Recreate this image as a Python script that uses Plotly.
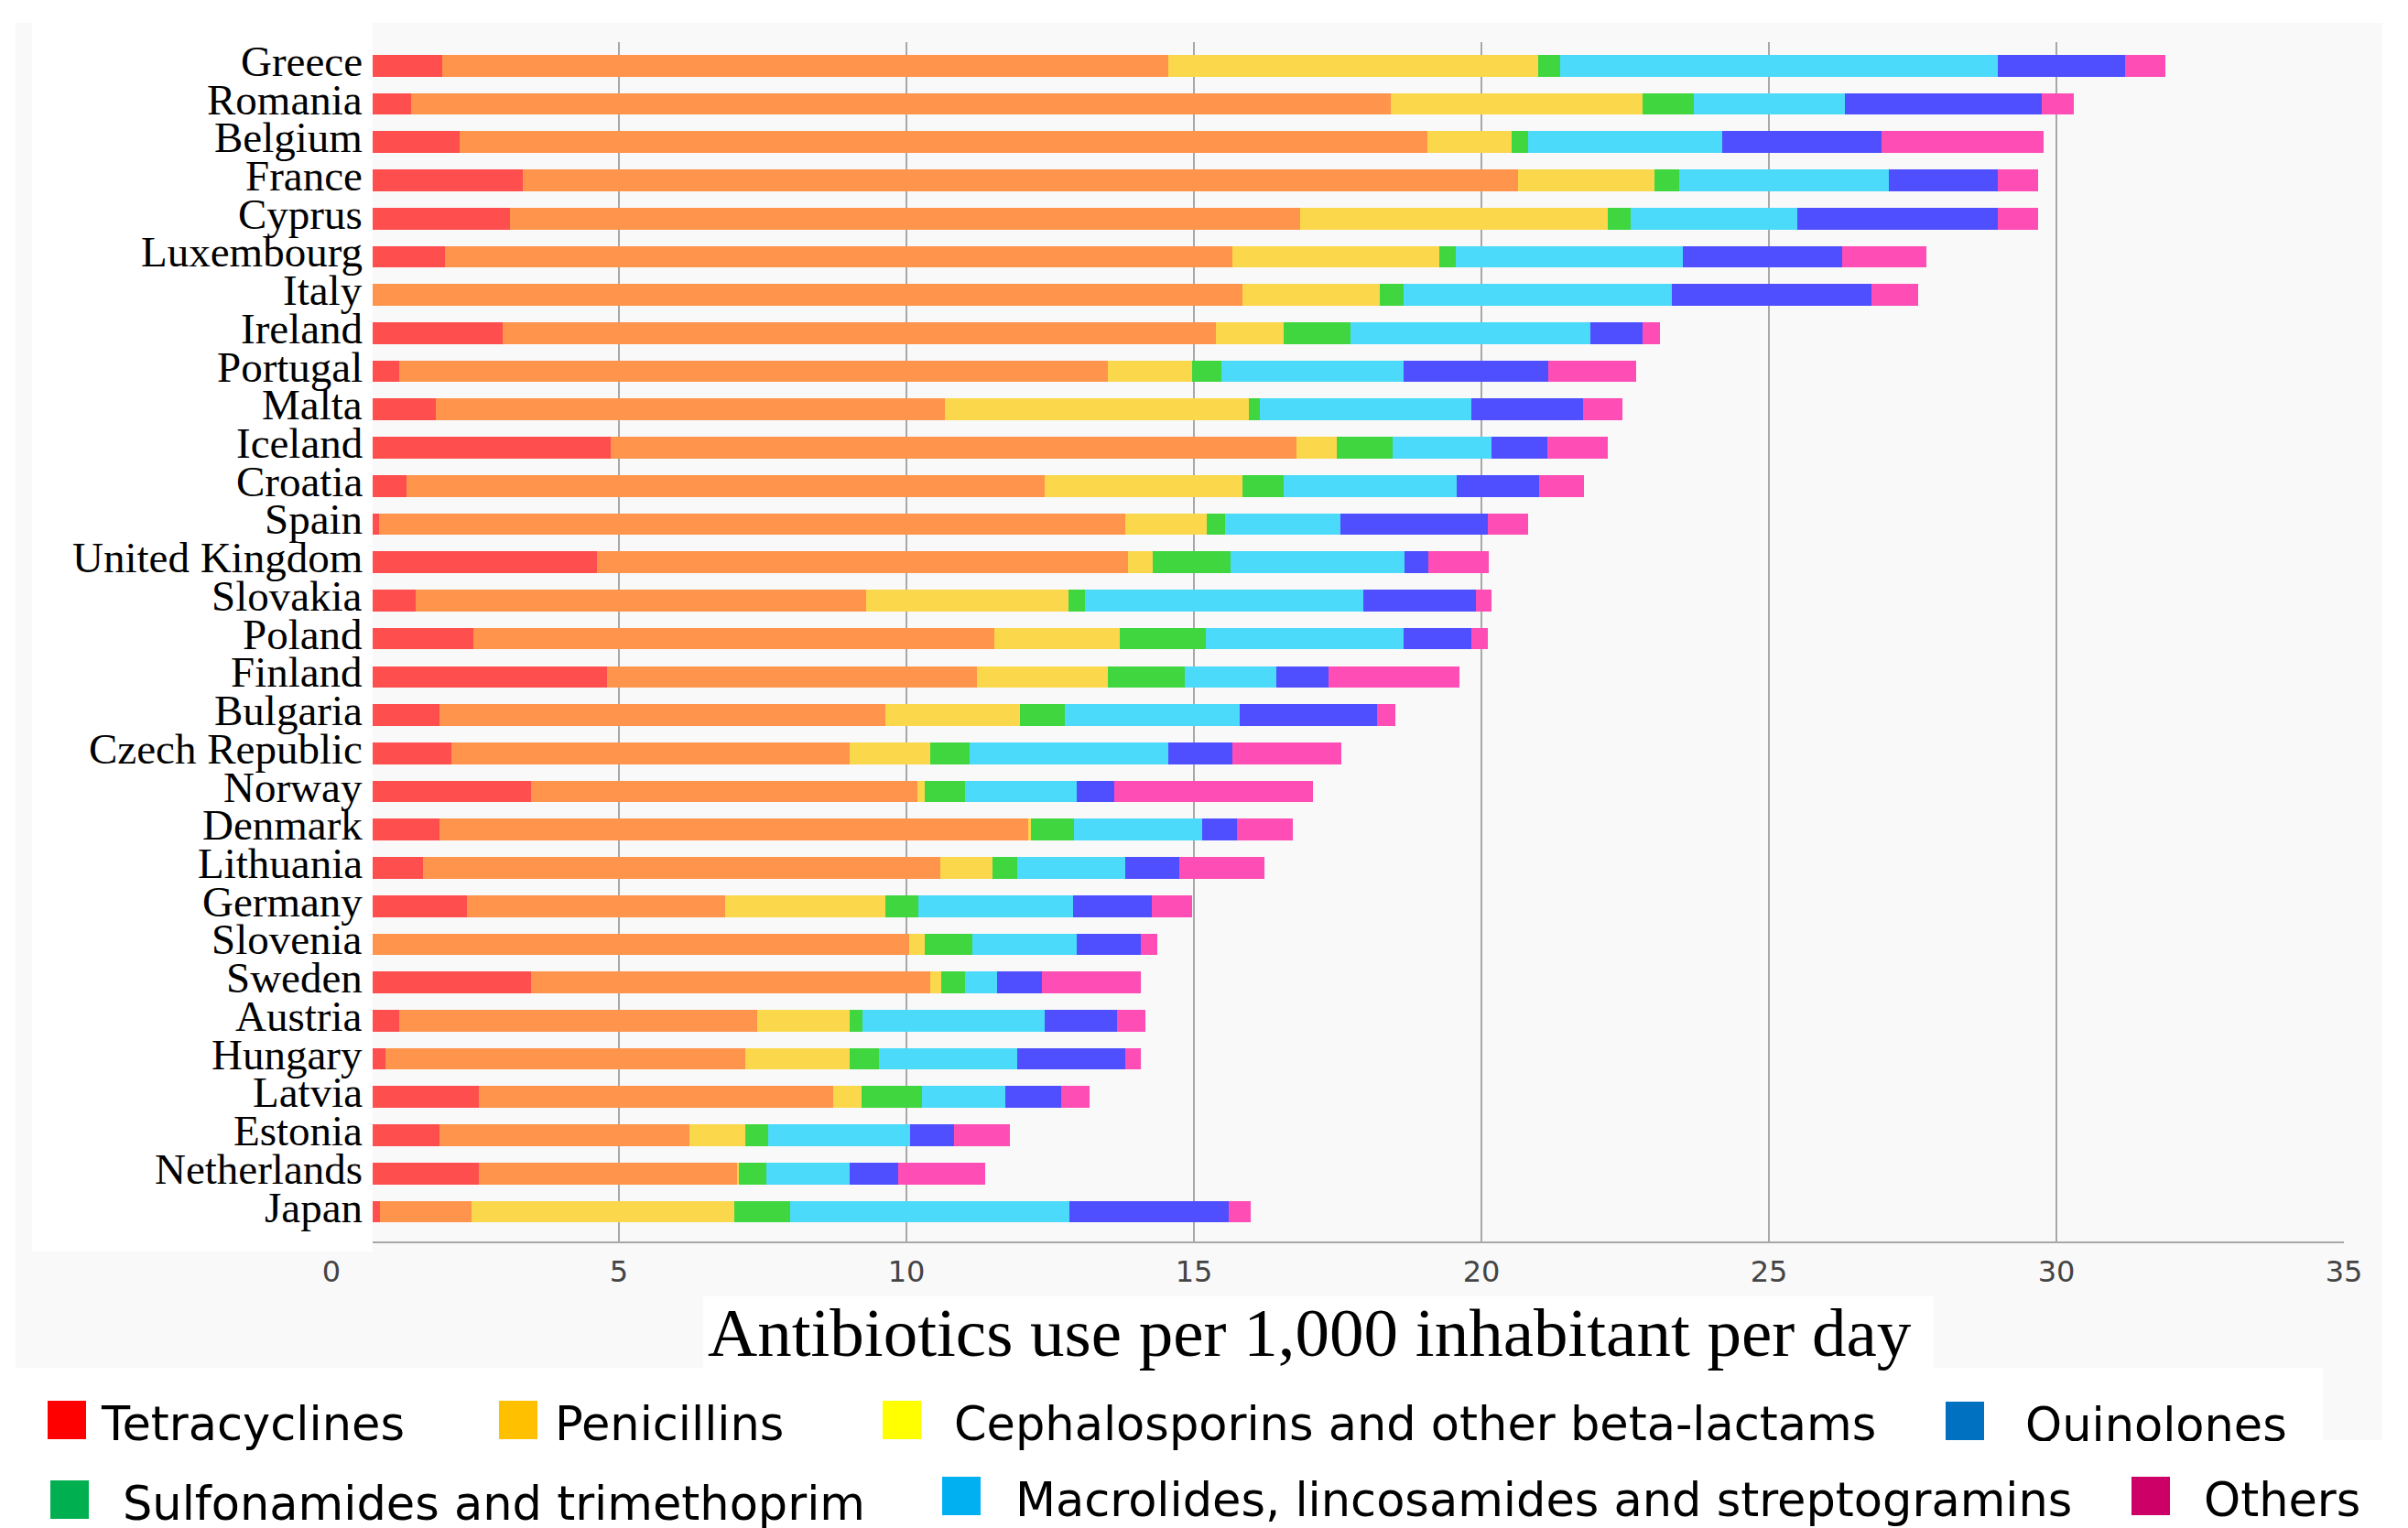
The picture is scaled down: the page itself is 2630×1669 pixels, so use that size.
import plotly.graph_objects as go

# ---------------- data ----------------
countries = ["Greece", "Romania", "Belgium", "France", "Cyprus", "Luxembourg", "Italy",
             "Ireland", "Portugal", "Malta", "Iceland", "Croatia", "Spain", "United Kingdom",
             "Slovakia", "Poland", "Finland", "Bulgaria", "Czech Republic", "Norway", "Denmark",
             "Lithuania", "Germany", "Slovenia", "Sweden", "Austria", "Hungary", "Latvia",
             "Estonia", "Netherlands", "Japan"]

tetracyclines = [1.93, 1.39, 2.23, 3.32, 3.11, 1.98, 0.40, 2.98, 1.18, 1.81, 4.85, 1.31, 0.83, 4.62,
                 1.46, 2.47, 4.80, 1.88, 2.08, 3.47, 1.88, 1.60, 2.36, 0.30, 3.47, 1.18, 0.94, 2.57,
                 1.88, 2.57, 0.84]
penicillins = [12.63, 17.03, 16.83, 17.32, 13.73, 13.69, 15.45, 12.40, 12.32, 8.86, 11.94, 11.09, 12.98,
               9.23, 7.84, 9.06, 6.42, 7.76, 6.93, 6.72, 10.25, 8.99, 4.49, 9.75, 6.95, 6.23, 6.26, 6.16,
               4.35, 4.49, 1.59]
cephalosporins = [6.43, 4.38, 1.47, 2.37, 5.35, 3.59, 2.39, 1.18, 1.47, 5.28, 0.70, 3.44, 1.42, 0.43,
                  3.52, 2.18, 2.28, 2.34, 1.41, 0.13, 0.03, 0.90, 2.79, 0.27, 0.18, 1.60, 1.81, 0.49,
                  0.97, 0.02, 4.58]
sulfonamides = [0.38, 0.89, 0.28, 0.43, 0.40, 0.30, 0.41, 1.17, 0.51, 0.20, 0.96, 0.72, 0.31, 1.35,
                0.29, 1.50, 1.34, 0.78, 0.68, 0.70, 0.75, 0.44, 0.56, 0.83, 0.42, 0.23, 0.51, 1.05,
                0.40, 0.48, 0.97]
macrolides = [7.61, 2.63, 3.38, 3.65, 2.91, 3.94, 4.66, 4.16, 3.17, 3.68, 1.73, 3.01, 2.00, 3.03,
              4.84, 3.44, 1.60, 3.04, 3.46, 1.94, 2.24, 1.88, 2.70, 1.81, 0.56, 3.17, 2.41, 1.45,
              2.47, 1.45, 4.86]
quinolones = [2.22, 3.43, 2.77, 1.89, 3.48, 2.77, 3.47, 0.91, 2.51, 1.94, 0.97, 1.43, 2.57, 0.41,
              1.96, 1.18, 0.90, 2.38, 1.11, 0.65, 0.60, 0.94, 1.36, 1.12, 0.77, 1.25, 1.88, 0.97,
              0.75, 0.84, 2.77]
others = [0.70, 0.56, 2.81, 0.70, 0.70, 1.47, 0.81, 0.31, 1.53, 0.68, 1.04, 0.78, 0.70, 1.05,
          0.27, 0.28, 2.28, 0.32, 1.90, 3.46, 0.97, 1.47, 0.71, 0.29, 1.73, 0.50, 0.27, 0.49,
          0.98, 1.52, 0.37]

x_ticks = [0, 5, 10, 15, 20, 25, 30, 35]
x_title = "Antibiotics use per 1,000 inhabitant per day"

legend_labels = ["Tetracyclines", "Penicillins", "Cephalosporins and other beta-lactams", "Quinolones",
                 "Sulfonamides and trimethoprim", "Macrolides, lincosamides and streptogramins", "Others"]

# ---------------- styles ----------------
series = [("Tetracyclines", tetracyclines, "#FF4E4E"),
          ("Penicillins", penicillins, "#FF944C"),
          ("Cephalosporins and other beta-lactams", cephalosporins, "#FBD84B"),
          ("Sulfonamides and trimethoprim", sulfonamides, "#40D640"),
          ("Macrolides, lincosamides and streptogramins", macrolides, "#4BDAFA"),
          ("Quinolones", quinolones, "#4F4FFF"),
          ("Others", others, "#FF4DB6")]

legend_colors = ["#FF0000", "#FFC000", "#FFFF00", "#0070C0", "#00B050", "#00B0F0", "#CC0066"]
# (square x0, square y0, text x) in page pixels
legend_pos = [(52, 1530, 110), (545, 1530, 606), (964, 1530, 1042), (2125, 1531, 2212),
              (55, 1617, 134), (1029, 1613, 1109), (2328, 1613, 2407)]

W, H = 2630, 1669
ML, MR, MT, MB = 362, 70, 46, 313
PW = W - ML - MR
PH = H - MT - MB


def px(x):
    return (x - ML) / PW


def py(y):
    return (H - MB - y) / PH


fig = go.Figure()
for name, vals, col in series:
    fig.add_trace(go.Bar(
        y=countries, x=vals, name=name, orientation="h",
        marker=dict(color=col, line=dict(width=0)),
        width=0.568,
    ))

shapes = []
GRAY = "#F9F9F9"
# gray chart background
shapes.append(dict(type="rect", xref="paper", yref="paper", x0=px(17), x1=px(2602), y0=py(1494), y1=py(25),
                   fillcolor=GRAY, line=dict(width=0), layer="below"))
shapes.append(dict(type="rect", xref="paper", yref="paper", x0=px(2537), x1=px(2602), y0=py(1573), y1=py(1494),
                   fillcolor=GRAY, line=dict(width=0), layer="below"))
# white title box
shapes.append(dict(type="rect", xref="paper", yref="paper", x0=px(768), x1=px(2112), y0=py(1494), y1=py(1416),
                   fillcolor="white", line=dict(width=0), layer="below"))
# white label panel (covers the start of the bars)
shapes.append(dict(type="rect", xref="paper", yref="paper", x0=px(35), x1=px(407), y0=py(1367), y1=py(25),
                   fillcolor="white", line=dict(width=0), layer="above"))
# legend squares
for (sx, sy, tx), col in zip(legend_pos, legend_colors):
    shapes.append(dict(type="rect", xref="paper", yref="paper", x0=px(sx), x1=px(sx + 42),
                       y0=py(sy + 42), y1=py(sy), fillcolor=col, line=dict(width=0), layer="above"))

annotations = []
for c in countries:
    annotations.append(dict(text=c, xref="paper", yref="y", x=px(398), y=c, xanchor="right",
                            yanchor="middle", yshift=5, showarrow=False,
                            font=dict(family="Liberation Serif", size=47, color="#000000")))
annotations.append(dict(text=x_title, xref="paper", yref="paper", x=px(771), y=py(1456),
                        xanchor="left", yanchor="middle", showarrow=False,
                        font=dict(family="Liberation Serif", size=75, color="#000000")))
for (sx, sy, tx), lab in zip(legend_pos, legend_labels):
    annotations.append(dict(text=lab, xref="paper", yref="paper", x=px(tx - 2), y=py(sy + 25),
                            xanchor="left", yanchor="middle", showarrow=False,
                            font=dict(family="DejaVu Sans", size=51, color="#000000")))
# clipped bottom of the "Quinolones" label
annotations.append(dict(text="", xref="paper", yref="paper", x=px(2200), y=py(1574),
                        xanchor="left", yanchor="top", width=340, height=28, bgcolor="white",
                        showarrow=False, borderpad=0, borderwidth=0))

fig.update_layout(
    barmode="stack",
    width=W, height=H,
    margin=dict(l=ML, r=MR, t=MT, b=MB, pad=0),
    paper_bgcolor="white",
    plot_bgcolor="rgba(0,0,0,0)",
    showlegend=False,
    bargap=0,
    shapes=shapes,
    annotations=annotations,
    xaxis=dict(range=[0, 35], tickvals=x_ticks, ticktext=[str(t) for t in x_ticks],
               showgrid=True, gridcolor="#A8A8A8", gridwidth=2, zeroline=False,
               showline=True, linecolor="#A8A8A8", linewidth=2, ticks="",
               tickfont=dict(family="DejaVu Sans", size=32, color="#444444"),
               ticklabelstandoff=4, fixedrange=True),
    yaxis=dict(categoryorder="array", categoryarray=countries, range=[30.779, -0.618],
               showgrid=False, zeroline=False, showline=False, showticklabels=False, ticks="",
               fixedrange=True),
)

fig.write_html("out.html", post_script="document.body.style.margin='0';",
               config={"displayModeBar": False})
